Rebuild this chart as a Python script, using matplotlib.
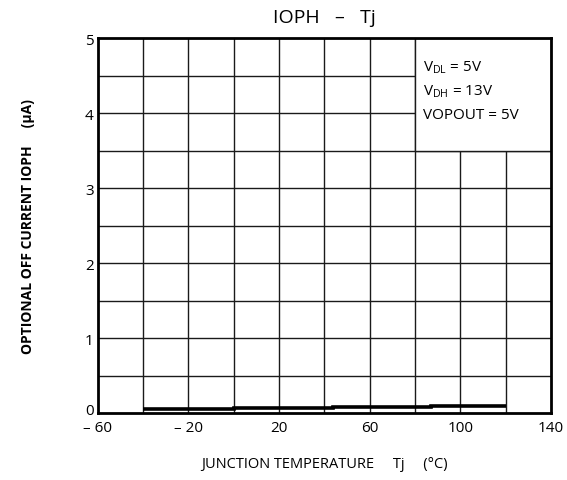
import matplotlib
matplotlib.use("Agg")
import matplotlib.pyplot as plt
from matplotlib.patches import Rectangle
from matplotlib.transforms import ScaledTranslation

# step curve: IOPH (uA) over junction temperature, each value held until the next edge
temp_edges = [-40, 0, 44, 87, 120]
ioph_ua = [0.05, 0.07, 0.085, 0.10]

x_ticks = [-60, -20, 20, 60, 100, 140]
x_tick_labels = ["\u2013 60", "\u2013 20", "20", "60", "100", "140"]
y_ticks = [0, 1, 2, 3, 4, 5]

conditions = ["V$_{\\mathregular{DL}}$ = 5V", "V$_{\\mathregular{DH}}$ = 13V", "VOPOUT = 5V"]

plt.rcParams["font.family"] = ["Open Sans", "DejaVu Sans"]
plt.rcParams["mathtext.fontset"] = "custom"
plt.rcParams["mathtext.rm"] = "Open Sans"

fig = plt.figure(figsize=(5.67, 4.81), dpi=100)
ax = fig.add_axes([0.1723, 0.1393, 0.7995, 0.7786])
ax.set_xlim(-60, 140)
ax.set_ylim(0, 5)

# grid every 20 degC and every 0.5 uA
for gx in range(-40, 140, 20):
    ax.axvline(gx, color="#1a1a1a", lw=1.0, zorder=1)
for gy in [0.5 * i for i in range(1, 10)]:
    ax.axhline(gy, color="#1a1a1a", lw=1.0, zorder=1)

# box holding the test conditions covers the grid in the upper right
ax.add_patch(Rectangle((80, 3.5), 60, 1.5, facecolor="white", edgecolor="#1a1a1a",
                       lw=1.0, zorder=2))
for i, txt in enumerate(conditions):
    ax.text(83.5, 4.62 - i * 0.32, txt, fontsize=11, va="center", ha="left", zorder=3)

ax.stairs(ioph_ua, temp_edges, color="black", lw=2.6, baseline=None, zorder=4)

ax.set_xticks(x_ticks)
ax.set_xticklabels(x_tick_labels)
ax.set_yticks(y_ticks)
ax.tick_params(length=0, labelsize=11)
ax.tick_params(axis="x", pad=5)
ax.tick_params(axis="y", pad=3)
for lbl in ax.get_yticklabels():
    lbl.set_verticalalignment("center_baseline")
# lift the "0" a little so it clears the "- 60" below it
zero = ax.yaxis.get_major_ticks()[0].label1
zero.set_transform(zero.get_transform() + ScaledTranslation(0, 3 / 72, fig.dpi_scale_trans))
for s in ax.spines.values():
    s.set_linewidth(2.0)
    s.set_zorder(5)

ax.set_title("IOPH   \u2013   Tj", fontsize=14, pad=12)
ax.set_xlabel("JUNCTION TEMPERATURE     Tj     (\u00b0C)", fontsize=10.5, labelpad=15)
ax.set_ylabel("OPTIONAL OFF CURRENT IOPH     (\u03bcA)", fontsize=10, fontweight="bold",
              labelpad=36)

fig.savefig("out.png", dpi=100)
